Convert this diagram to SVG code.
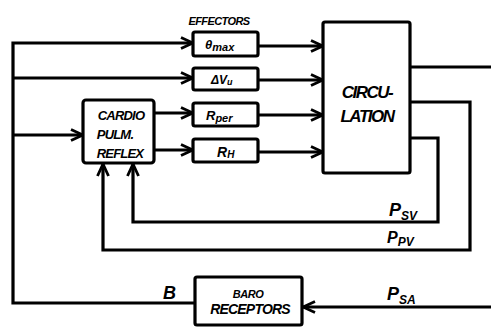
<svg xmlns="http://www.w3.org/2000/svg" width="491" height="329" viewBox="0 0 491 329">
<style>
.ln{fill:none;stroke:#000;stroke-width:3.2;stroke-linejoin:miter}
.bx{fill:#fff;stroke:#000;stroke-width:3.2}
.t{font-family:"Liberation Sans",Arial,sans-serif;font-weight:bold;font-style:italic;fill:#000}
</style>
<defs>
<marker id="ah" viewBox="0 0 14 14" refX="13" refY="7" markerWidth="14" markerHeight="14" markerUnits="userSpaceOnUse" orient="auto">
<path d="M1,1.5 L13,7 L1,12.5" fill="none" stroke="#000" stroke-width="2.8"/>
</marker>
</defs>
<rect width="491" height="329" fill="#fff"/>
<g id="connectors">
<path class="ln" d="M195,303 H13 V43 H193" marker-end="url(#ah)"/>
<path class="ln" d="M13,78 H193" marker-end="url(#ah)"/>
<path class="ln" d="M13,135 H83" marker-end="url(#ah)"/>
<path class="ln" d="M154,113 H193" marker-end="url(#ah)"/>
<path class="ln" d="M154,150 H193" marker-end="url(#ah)"/>
<path class="ln" d="M258,46 H323" marker-end="url(#ah)"/>
<path class="ln" d="M258,80 H323" marker-end="url(#ah)"/>
<path class="ln" d="M258,115 H323" marker-end="url(#ah)"/>
<path class="ln" d="M258,152 H323" marker-end="url(#ah)"/>
<path class="ln" d="M410,67 H491"/>
<path class="ln" d="M410,102 H470 V250 H103 V164" marker-end="url(#ah)"/>
<path class="ln" d="M410,138 H438 V222 H133 V164" marker-end="url(#ah)"/>
<path class="ln" d="M491,307 H303" marker-end="url(#ah)"/>
</g>
<text class="t" x="219" y="25" font-size="11" text-anchor="middle" letter-spacing="-0.6">EFFECTORS</text>
<g id="theta">
<rect class="bx" x="193" y="32" width="65" height="24" rx="2"/>
<text class="t" x="205" y="49" font-size="13">θ<tspan font-size="11" dy="2">max</tspan></text>
</g>
<g id="dvu">
<rect class="bx" x="193" y="68" width="65" height="22" rx="2"/>
<text class="t" x="211" y="84" font-size="12">ΔV<tspan font-size="9" dy="1">u</tspan></text>
</g>
<g id="rper">
<rect class="bx" x="193" y="103" width="65" height="23" rx="2"/>
<text class="t" x="206" y="120" font-size="13">R<tspan font-size="11" dy="2">per</tspan></text>
</g>
<g id="rh">
<rect class="bx" x="193" y="139" width="65" height="23" rx="2"/>
<text class="t" x="217" y="157" font-size="14">R<tspan font-size="10" dy="1">H</tspan></text>
</g>
<g id="cardio">
<rect class="bx" x="83" y="100" width="71" height="63" rx="3"/>
<text class="t" x="121" y="120" font-size="13" text-anchor="middle" letter-spacing="-0.8">CARDIO</text>
<text class="t" x="115" y="139" font-size="13" text-anchor="middle" letter-spacing="-0.8">PULM.</text>
<text class="t" x="120" y="158" font-size="13" text-anchor="middle" letter-spacing="-0.8">REFLEX</text>
</g>
<g id="circulation">
<rect class="bx" x="323" y="22" width="87" height="151" rx="2"/>
<text class="t" x="367" y="98" font-size="17" text-anchor="middle" letter-spacing="-1.5">CIRCU-</text>
<text class="t" x="367" y="122" font-size="17" text-anchor="middle" letter-spacing="-1.5">LATION</text>
</g>
<g id="baro">
<rect class="bx" x="195" y="277" width="107" height="48" rx="2"/>
<text class="t" x="248" y="298" font-size="11" text-anchor="middle" letter-spacing="-0.5">BARO</text>
<text class="t" x="250" y="314" font-size="14" text-anchor="middle" letter-spacing="-0.8">RECEPTORS</text>
</g>
<g id="labels">
<text class="t" x="389" y="216" font-size="18">P<tspan font-size="12" dy="4">SV</tspan></text>
<text class="t" x="387" y="243" font-size="16">P<tspan font-size="12" dy="3">PV</tspan></text>
<text class="t" x="387" y="300" font-size="18">P<tspan font-size="12" dy="4">SA</tspan></text>
<text class="t" x="163" y="299" font-size="18">B</text>
</g>
</svg>
